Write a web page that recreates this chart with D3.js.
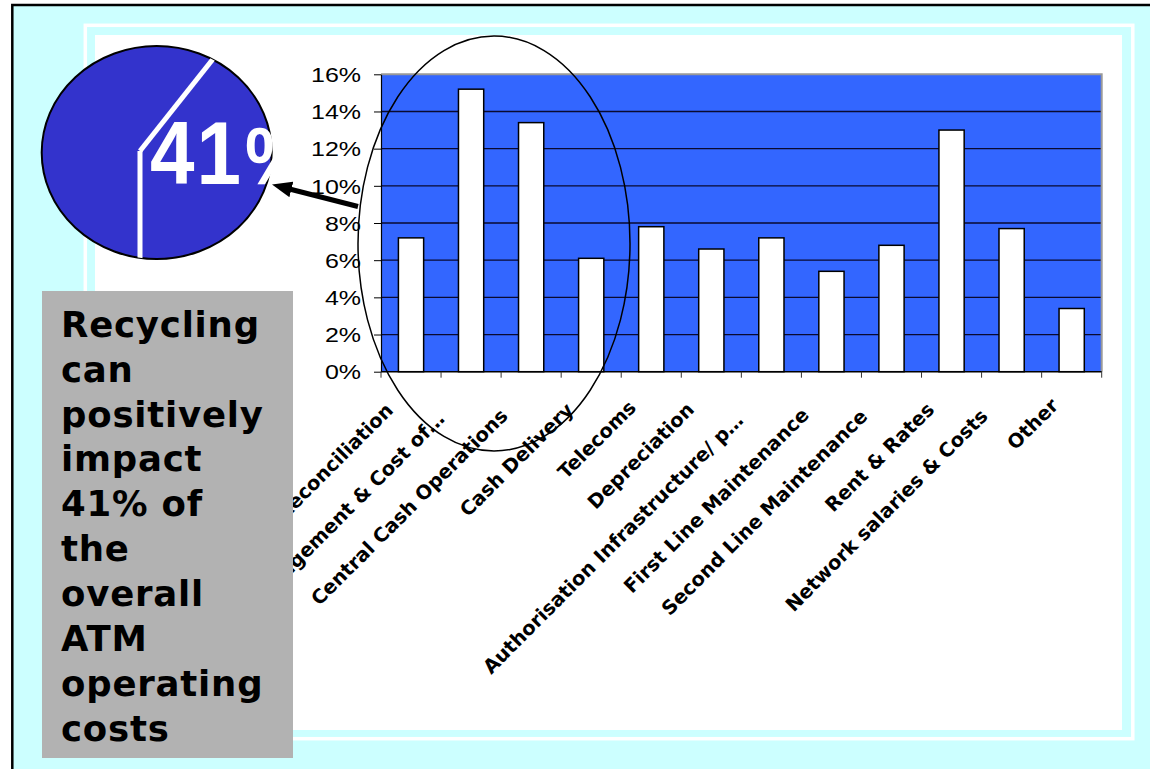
<!DOCTYPE html>
<html>
<head>
<meta charset="utf-8">
<script src="https://cdn.jsdelivr.net/npm/d3@7"></script>
<style>
    body { margin: 0; background: #fff; }
    svg { display: block; font-family: "Liberation Sans", Arial, sans-serif; }
</style>
</head>
<body>
<div id="chart"></div>
<script>
// ATM operating cost breakdown (share of total cost)
var categories = [
    "Reconciliation",
    "Cash Management & Cost of\u2026",
    "Central Cash Operations",
    "Cash Delivery",
    "Telecoms",
    "Depreciation",
    "Authorisation Infrastructure/ p\u2026",
    "First Line Maintenance",
    "Second Line Maintenance",
    "Rent & Rates",
    "Network salaries & Costs",
    "Other"
];
var costShares = [0.072, 0.152, 0.134, 0.061, 0.078, 0.066, 0.072, 0.054, 0.068, 0.130, 0.077, 0.034];
var yTicks = [0, 0.02, 0.04, 0.06, 0.08, 0.10, 0.12, 0.14, 0.16];

// share of costs touched by recycling (first four categories)
var recycledShare = 0.41;
var noteLines = ["Recycling", "can", "positively", "impact", "41% of", "the", "overall", "ATM", "operating", "costs"];

/*
 * Slide frame
 */
var svg = d3.select("#chart").append("svg")
    .attr("width", 1150)
    .attr("height", 769);

svg.append("rect")
    .attr("width", 1150)
    .attr("height", 769)
    .attr("fill", "#fff");

svg.append("rect")
    .attr("x", 12.3)
    .attr("y", 5)
    .attr("width", 1200)
    .attr("height", 800)
    .attr("fill", "#CCFFFF")
    .attr("stroke", "#000")
    .attr("stroke-width", 2.5);

svg.append("rect")
    .attr("x", 85.3)
    .attr("y", 25.3)
    .attr("width", 1047.5)
    .attr("height", 713.4)
    .attr("fill", "none")
    .attr("stroke", "#fff")
    .attr("stroke-width", 3.5);

svg.append("rect")
    .attr("x", 95)
    .attr("y", 35)
    .attr("width", 1027)
    .attr("height", 695)
    .attr("fill", "#fff");

/*
 * Pie badge: 41% slice
 */
var pie = { cx: 156.7, cy: 152.5, rx: 115, ry: 106.5, vx: 140, vy: 151 };

var defs = svg.append("defs");

defs.append("clipPath")
    .attr("id", "pie-clip")
    .append("ellipse")
    .attr("cx", pie.cx).attr("cy", pie.cy)
    .attr("rx", pie.rx).attr("ry", pie.ry);

// label may spill a little over the rim
defs.append("clipPath")
    .attr("id", "label-clip")
    .append("ellipse")
    .attr("cx", pie.cx).attr("cy", pie.cy)
    .attr("rx", pie.rx + 6).attr("ry", pie.ry + 6);

svg.append("ellipse")
    .attr("cx", pie.cx).attr("cy", pie.cy)
    .attr("rx", pie.rx).attr("ry", pie.ry)
    .attr("fill", "#3333CC")
    .attr("stroke", "#000")
    .attr("stroke-width", 2);

// slice ends at the bottom, starts 41% of a turn earlier
var slice = d3.pie().sort(null)
    .startAngle(Math.PI - recycledShare * 2 * Math.PI)
    .endAngle(3 * Math.PI - recycledShare * 2 * Math.PI)([recycledShare, 1 - recycledShare])[0];

var edgeAngles = [slice.startAngle, slice.endAngle];
svg.append("g")
    .attr("clip-path", "url(#pie-clip)")
    .selectAll("line")
    .data(edgeAngles)
    .enter()
    .append("line")
    .attr("x1", pie.vx)
    .attr("y1", pie.vy)
    .attr("x2", function(a) { return pie.vx + 1.25 * Math.sin(a) * 250; })
    .attr("y2", function(a) { return pie.vy - Math.cos(a) * 250; })
    .attr("stroke", "#fff")
    .attr("stroke-width", 5);

var badge = svg.append("g")
    .attr("clip-path", "url(#label-clip)")
    .append("text")
    .attr("transform", "translate(150,184) scale(1,1.1)")
    .attr("fill", "#fff")
    .style("font-weight", "bold")
    .style("font-size", "80px");

badge.append("tspan")
    .style("letter-spacing", "2px")
    .text(d3.format(".0f")(recycledShare * 100));
badge.append("tspan")
    .attr("dx", 2)
    .style("font-size", "74px")
    .text("%");

/*
 * Bar chart
 */
var plot = { left: 381, top: 74.3, right: 1101.7, bottom: 371.7 };

var x = d3.scaleBand()
    .domain(categories)
    .range([plot.left, plot.right]);

var y = d3.scaleLinear()
    .domain([0, 0.16])
    .range([plot.bottom, plot.top]);

var chart = svg.append("g");

chart.append("rect")
    .attr("x", plot.left)
    .attr("y", plot.top)
    .attr("width", plot.right - plot.left)
    .attr("height", plot.bottom - plot.top)
    .attr("fill", "#3366FF");

chart.selectAll(".grid")
    .data(yTicks.slice(1, -1))
    .enter()
    .append("line")
    .attr("class", "grid")
    .attr("x1", plot.left)
    .attr("x2", plot.right)
    .attr("y1", function(d) { return y(d); })
    .attr("y2", function(d) { return y(d); })
    .attr("stroke", "#0a0a30")
    .attr("stroke-width", 1.3);

chart.append("path")
    .attr("d", "M" + plot.left + "," + plot.top + "H" + plot.right + "V" + plot.bottom)
    .attr("fill", "none")
    .attr("stroke", "#999")
    .attr("stroke-width", 2);

// y axis
var yAxis = d3.axisLeft(y)
    .tickValues(yTicks)
    .tickSize(7)
    .tickSizeOuter(0)
    .tickFormat(d3.format(".0%"));

var yAxisG = chart.append("g")
    .attr("transform", "translate(" + plot.left + ",0)")
    .call(yAxis);

yAxisG.select(".domain").attr("stroke", "#000").attr("stroke-width", 1.2);
yAxisG.selectAll(".tick line").attr("stroke", "#000");
yAxisG.selectAll(".tick text")
    .attr("x", -16)
    .attr("dy", "0.36em")
    .attr("transform", "scale(1.25,1)")
    .attr("fill", "#000")
    .style("font-family", "'Liberation Sans', Arial, sans-serif")
    .style("font-size", "20px");

// bars
var barWidth = x.bandwidth() * 0.42;

chart.selectAll(".bar")
    .data(costShares)
    .enter()
    .append("rect")
    .attr("class", "bar")
    .attr("x", function(d, i) { return x(categories[i]) + (x.bandwidth() - barWidth) / 2; })
    .attr("y", function(d) { return y(d); })
    .attr("width", barWidth)
    .attr("height", function(d) { return y(0) - y(d); })
    .attr("fill", "#fff")
    .attr("stroke", "#000")
    .attr("stroke-width", 1.5);

// x axis: ticks between categories
var xEdges = categories.map(function(c) { return x(c); }).concat([plot.right]);

chart.append("line")
    .attr("x1", plot.left)
    .attr("x2", plot.right)
    .attr("y1", plot.bottom)
    .attr("y2", plot.bottom)
    .attr("stroke", "#000")
    .attr("stroke-width", 1.5);

chart.selectAll(".x-tick")
    .data(xEdges)
    .enter()
    .append("line")
    .attr("class", "x-tick")
    .attr("x1", function(d) { return d; })
    .attr("x2", function(d) { return d; })
    .attr("y1", plot.bottom)
    .attr("y2", plot.bottom + 6)
    .attr("stroke", "#333");

// rotated labels; longer ones sit a little further down the diagonal
chart.selectAll(".x-label")
    .data(categories)
    .enter()
    .append("text")
    .attr("class", "x-label")
    .attr("transform", function(d) {
        return "translate(" + (x(d) + x.bandwidth() / 2 - 9) + "," + (plot.bottom + 32) + ") rotate(-45)";
    })
    .attr("text-anchor", "end")
    .style("font-family", "'DejaVu Sans', Verdana, sans-serif")
    .style("font-weight", "bold")
    .style("font-size", "19.5px")
    .text(function(d) { return d; })
    .attr("dx", function() { return -0.07 * this.getComputedTextLength(); });

/*
 * Annotations
 */
svg.append("ellipse")
    .attr("cx", 494)
    .attr("cy", 243.5)
    .attr("rx", 136)
    .attr("ry", 207.5)
    .attr("fill", "none")
    .attr("stroke", "#000")
    .attr("stroke-width", 1.5);

defs.append("marker")
    .attr("id", "arrow-head")
    .attr("markerUnits", "userSpaceOnUse")
    .attr("viewBox", "0 0 20 16")
    .attr("markerWidth", 20)
    .attr("markerHeight", 16)
    .attr("refX", 5)
    .attr("refY", 8)
    .attr("orient", "auto")
    .append("path")
    .attr("d", "M0,0L20,8L0,16Z")
    .attr("fill", "#000");

var arrowFrom = [358, 206.5], arrowTip = [272, 184.5];
var adx = arrowTip[0] - arrowFrom[0], ady = arrowTip[1] - arrowFrom[1];
var alen = Math.sqrt(adx * adx + ady * ady);

svg.append("line")
    .attr("x1", arrowFrom[0])
    .attr("y1", arrowFrom[1])
    .attr("x2", arrowTip[0] - adx / alen * 15)
    .attr("y2", arrowTip[1] - ady / alen * 15)
    .attr("stroke", "#000")
    .attr("stroke-width", 5)
    .attr("marker-end", "url(#arrow-head)");

// grey note box
svg.append("rect")
    .attr("x", 42)
    .attr("y", 291)
    .attr("width", 251)
    .attr("height", 467)
    .attr("fill", "#B2B2B2");

svg.append("g")
    .selectAll("text")
    .data(noteLines)
    .enter()
    .append("text")
    .attr("x", 61)
    .attr("y", function(d, i) { return 336.7 + i * 44.9; })
    .style("font-family", "'DejaVu Sans', Verdana, sans-serif")
    .style("font-weight", "bold")
    .style("font-size", "35.5px")
    .style("letter-spacing", "0.8px")
    .text(function(d) { return d; });
</script>
</body>
</html>
